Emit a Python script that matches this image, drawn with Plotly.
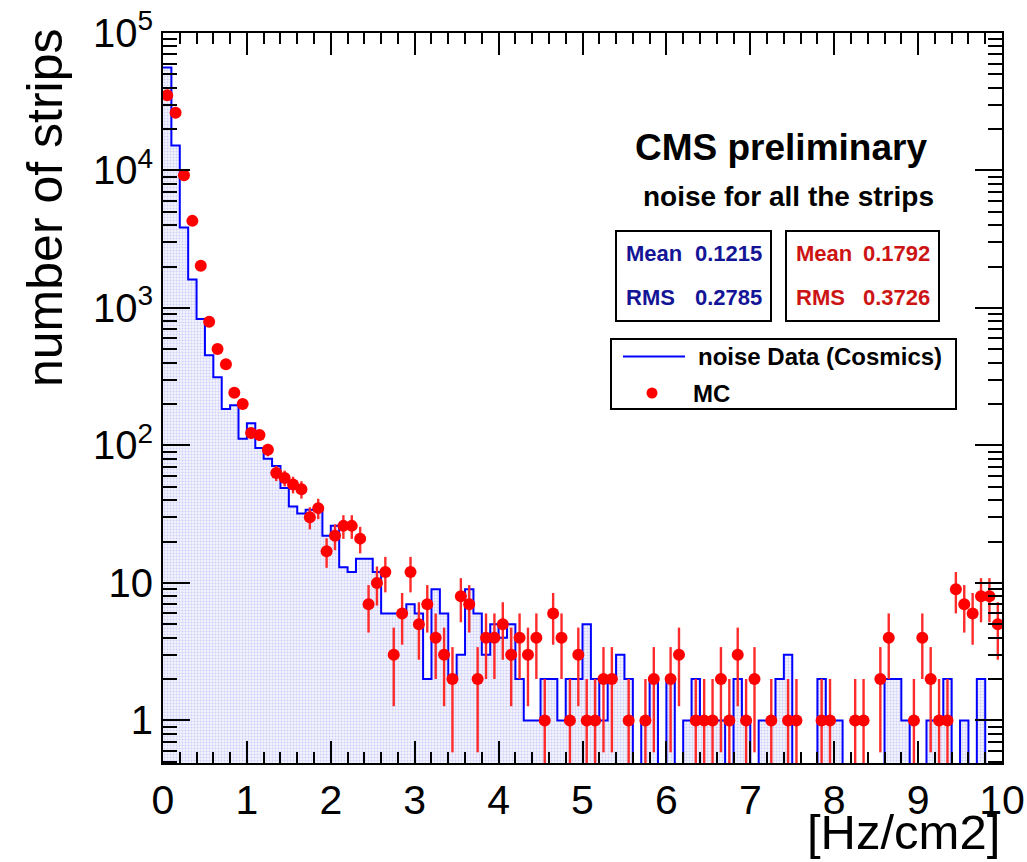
import numpy as np
import plotly.graph_objects as go

# ---------------- data ----------------
bin_width = 0.1
n_bins = 100

# noise Data (Cosmics): counts per bin (0.0-0.1, 0.1-0.2, ..., 9.9-10.0)
data_counts = [
    56000, 15200, 3850, 1610, 830, 453, 313, 184, 196, 112,
    145, 96, 80, 71, 49, 36, 32, 34, 34, 22,
    26, 13, 12, 15, 15, 12, 6, 6, 6, 7,
    6, 2, 9, 6, 2, 3, 9, 6, 3, 5,
    4, 5, 2, 1, 1, 2, 2, 1, 2, 2,
    5, 2, 1, 2, 3, 2, 0, 1, 2, 0,
    2, 0, 1, 2, 1, 1, 1, 0, 2, 1,
    0, 1, 1, 2, 3, 0, 0, 0, 2, 1,
    1, 0, 0, 0, 0, 0, 2, 2, 1, 0,
    0, 1, 1, 2, 0, 1, 0, 2, 0, 0,
]

# MC: counts per bin
mc_counts = [
    35200, 26300, 9230, 4300, 2030, 794, 503, 390, 242, 200,
    123, 119, 93, 63, 58, 52, 48, 30, 35, 17,
    22, 26, 26, 21, 7, 10, 12, 3, 6, 12,
    5, 7, 4, 3, 2, 8, 7, 2, 4, 4,
    5, 3, 4, 3, 4, 1, 6, 4, 1, 3,
    1, 1, 2, 2, 0, 1, 0, 1, 2, 0,
    2, 3, 0, 1, 1, 1, 2, 1, 3, 1,
    2, 0, 1, 0, 1, 1, 0, 0, 1, 1,
    0, 0, 1, 1, 0, 2, 4, 0, 0, 1,
    4, 2, 1, 1, 9, 7, 6, 8, 8, 5,
]

y_tick_vals = [1, 10, 100, 1000, 10000, 100000]
y_tick_text = ["1", "10", "10<sup>2</sup>", "10<sup>3</sup>", "10<sup>4</sup>", "10<sup>5</sup>"]
x_tick_vals = list(range(0, 11))

data_stats = {"Mean": "0.1215", "RMS": "0.2785"}
mc_stats = {"Mean": "0.1792", "RMS": "0.3726"}

# ---------------- derived ----------------
edges = np.arange(n_bins + 1) * bin_width
centers = edges[:-1] + bin_width / 2
dc = np.array(data_counts, dtype=float)
mc = np.array(mc_counts, dtype=float)

FLOOR = 0.05  # below visible range: empty bins drop to the axis
step_y = np.where(dc > 0, dc, FLOOR)
step_y = np.append(step_y, step_y[-1])

mc_y = np.where(mc > 0, mc, np.nan)
mc_err = np.sqrt(mc)

# ---------------- layout helpers (pixels -> paper) ----------------
W, H = 1027, 862
L, R, T, B = 163, 1002, 33, 763


def px(xp):
    return (xp - L) / (R - L)


def py(yp):
    return (B - yp) / (B - T)


FONT = "Liberation Sans, Arial, Helvetica, sans-serif"
BLUE_TXT = "rgb(20,20,150)"
RED_TXT = "rgb(205,20,20)"

fig = go.Figure()

# baseline for the fill
fig.add_trace(go.Scatter(x=edges, y=np.full(edges.shape, FLOOR), mode="lines",
                         line=dict(width=0, color="rgba(0,0,0,0)"),
                         showlegend=False, hoverinfo="skip"))
# filled area of the data histogram
fig.add_trace(go.Scatter(x=edges, y=step_y, mode="lines", line_shape="hv",
                         line=dict(width=0, color="rgba(0,0,0,0)"),
                         fill="tonexty",
                         fillcolor="rgba(215,215,245,0.55)",
                         fillpattern=dict(shape=".", fgcolor="rgba(110,110,240,0.55)",
                                          bgcolor="rgba(235,235,252,0.6)",
                                          size=3, solidity=0.35),
                         showlegend=False, hoverinfo="skip"))
# data histogram outline
fig.add_trace(go.Scatter(x=edges, y=step_y, mode="lines", line_shape="hv",
                         line=dict(width=2, color="#0000ff"),
                         name="noise Data (Cosmics)", showlegend=False))
# MC points with error bars
fig.add_trace(go.Scatter(x=centers, y=mc_y, mode="markers",
                         marker=dict(symbol="circle", size=12, color="#ff0000"),
                         error_y=dict(type="data", array=mc_err, symmetric=True,
                                      color="#ff2a2a", thickness=2.4, width=0),
                         name="MC", showlegend=False))

minor_y = [m * 10.0 ** d for d in range(-1, 5) for m in range(2, 10)]
minor_y = [v for v in minor_y if 0.49 <= v <= 1e5]

fig.update_xaxes(range=[0, 10], tickvals=x_tick_vals, ticks="inside", ticklen=22,
                 tickwidth=2, tickcolor="black", showline=True, linecolor="black",
                 linewidth=2, mirror="allticks", showgrid=False, zeroline=False,
                 automargin=False,
                 tickfont=dict(family=FONT, size=41, color="black"),
                 minor=dict(tickmode="linear", tick0=0, dtick=0.2, ticks="inside",
                            ticklen=11, tickwidth=2, tickcolor="black", showgrid=False))
fig.update_yaxes(type="log", range=[np.log10(0.49), 5], tickmode="array",
                 tickvals=y_tick_vals, ticktext=y_tick_text, ticks="inside",
                 ticklen=27, tickwidth=2, tickcolor="black", showline=True,
                 linecolor="black", linewidth=2, mirror="allticks", showgrid=False,
                 zeroline=False, automargin=False,
                 tickfont=dict(family=FONT, size=40, color="black"),
                 minor=dict(tickmode="array", tickvals=minor_y, ticks="inside",
                            ticklen=14, tickwidth=2, tickcolor="black", showgrid=False))

ann = []
# axis titles
ann.append(dict(text="number of strips", x=px(45), y=py(208), xref="paper", yref="paper",
                textangle=-90, showarrow=False, xanchor="center", yanchor="middle",
                font=dict(family=FONT, size=50, color="black")))
ann.append(dict(text="[Hz/cm2]", x=px(1002), y=py(861), xref="paper", yref="paper",
                showarrow=False, xanchor="right", yanchor="bottom",
                font=dict(family=FONT, size=49, color="black")))
# headers
ann.append(dict(text="<b>CMS preliminary</b>", x=px(781), y=py(147), xref="paper",
                yref="paper", showarrow=False, xanchor="center", yanchor="middle",
                font=dict(family=FONT, size=37, color="black")))
ann.append(dict(text="<b>noise for all the strips</b>", x=px(788), y=py(196), xref="paper",
                yref="paper", showarrow=False, xanchor="center", yanchor="middle",
                font=dict(family=FONT, size=28, color="black")))

# stats boxes
shapes = []
for (x0, x1, stats, col) in [(616, 771, data_stats, BLUE_TXT), (786, 939, mc_stats, RED_TXT)]:
    shapes.append(dict(type="rect", xref="paper", yref="paper", x0=px(x0), x1=px(x1),
                       y0=py(321), y1=py(231), line=dict(color="black", width=2),
                       fillcolor="white", layer="above"))
    for (key, yy) in [("Mean", 253.5), ("RMS", 297.5)]:
        ann.append(dict(text="<b>%s</b>" % key, x=px(x0 + 8), y=py(yy), xref="paper",
                        yref="paper", showarrow=False, xanchor="left", yanchor="middle",
                        font=dict(family=FONT, size=22, color=col)))
        ann.append(dict(text="<b>%s</b>" % stats[key], x=px(x1 - 7), y=py(yy), xref="paper",
                        yref="paper", showarrow=False, xanchor="right", yanchor="middle",
                        font=dict(family=FONT, size=22, color=col)))

# legend box
shapes.append(dict(type="rect", xref="paper", yref="paper", x0=px(611), x1=px(956),
                   y0=py(409), y1=py(339), line=dict(color="black", width=2),
                   fillcolor="white", layer="above"))
shapes.append(dict(type="line", xref="paper", yref="paper", x0=px(623), x1=px(685),
                   y0=py(356.5), y1=py(356.5), line=dict(color="#0000ff", width=2),
                   layer="above"))
shapes.append(dict(type="circle", xref="paper", yref="paper", xsizemode="pixel",
                   ysizemode="pixel", xanchor=px(652), yanchor=py(393),
                   x0=-5.5, x1=5.5, y0=-5.5, y1=5.5,
                   line=dict(color="#ff0000", width=0), fillcolor="#ff0000", layer="above"))
ann.append(dict(text="<b>noise Data (Cosmics)</b>", x=px(696), y=py(357), xref="paper",
                yref="paper", showarrow=False, xanchor="left", yanchor="middle",
                font=dict(family=FONT, size=24, color="black")))
ann.append(dict(text="<b>MC</b>", x=px(691), y=py(393), xref="paper",
                yref="paper", showarrow=False, xanchor="left", yanchor="middle",
                font=dict(family=FONT, size=24, color="black")))

fig.update_layout(width=W, height=H, margin=dict(l=L, r=W - R, t=T, b=H - B, autoexpand=False),
                  paper_bgcolor="white", plot_bgcolor="white", showlegend=False,
                  annotations=ann, shapes=shapes, font=dict(family=FONT))

fig.write_html("out.html")
